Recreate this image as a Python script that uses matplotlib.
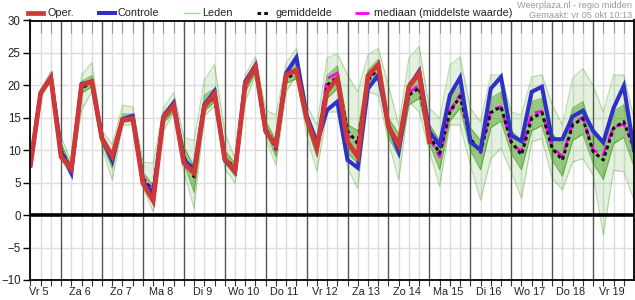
import numpy as np
import matplotlib
matplotlib.use("Agg")
import matplotlib.pyplot as plt
from matplotlib.lines import Line2D

plt.rcParams["font.family"] = ["Liberation Sans", "DejaVu Sans"]

# time steps in hours after Fri 5 00:00, every 6 h
hours = np.arange(6, 361, 6)
day_labels = ["Vr 5", "Za 6", "Zo 7", "Ma 8", "Di 9", "Wo 10", "Do 11", "Vr 12",
              "Za 13", "Zo 14", "Ma 15", "Di 16", "Wo 17", "Do 18", "Vr 19"]

# operational run (ends after 10 days)
oper = [7.7, 18.8, 21.2, 9.0, 7.1, 20.0, 20.6, 11.8, 9.1, 14.7,
        14.9, 4.9, 2.2, 15.0, 16.9, 8.0, 6.5, 16.7, 18.7, 8.7,
        6.8, 20.2, 22.9, 12.9, 10.8, 21.6, 22.4, 14.9, 10.3, 19.1,
        21.1, 11.3, 9.0, 21.5, 23.2, 13.6, 10.8, 19.8, 21.9, 11.3]

controle = [7.7, 18.8, 21.3, 9.8, 6.5, 20.2, 20.6, 11.8, 8.4, 14.8,
            15.3, 5.2, 3.2, 15.2, 17.3, 8.5, 7.1, 17.0, 19.1, 8.5,
            6.7, 20.6, 23.1, 12.9, 10.8, 21.9, 24.3, 15.4, 11.1, 16.2,
            17.5, 8.5, 7.3, 19.5, 21.6, 13.9, 9.8, 19.8, 22.2, 12.9,
            10.8, 18.5, 21.2, 11.3, 10.0, 19.5, 21.3, 12.3, 11.4, 19.0,
            19.8, 11.7, 11.7, 15.2, 16.1, 13.0, 11.2, 16.5, 19.9, 10.0]

gemiddelde = [7.7, 18.7, 21.0, 10.0, 7.0, 19.6, 20.4, 11.8, 8.6, 14.6,
              15.0, 5.5, 3.8, 15.0, 16.6, 9.0, 5.9, 16.8, 18.2, 8.8,
              7.3, 20.0, 22.7, 13.4, 10.3, 21.0, 22.0, 14.8, 10.6, 20.0,
              21.3, 12.9, 11.1, 20.8, 22.6, 13.4, 11.3, 18.5, 19.6, 12.3,
              9.5, 15.9, 18.3, 11.8, 9.8, 15.8, 16.7, 11.3, 9.3, 14.9,
              15.8, 10.3, 8.5, 13.9, 14.9, 9.8, 8.5, 13.4, 14.4, 10.3]

mediaan = [7.7, 18.8, 21.0, 10.0, 7.0, 19.8, 20.5, 11.8, 8.5, 14.7,
           15.0, 5.8, 4.0, 15.1, 16.7, 9.2, 6.2, 17.0, 18.4, 8.8,
           7.0, 20.1, 22.8, 13.3, 10.0, 21.2, 22.2, 14.7, 10.8, 21.0,
           21.9, 12.3, 11.0, 21.0, 22.8, 13.4, 11.0, 18.8, 20.1, 12.0,
           9.0, 16.0, 18.6, 11.7, 9.6, 16.2, 16.7, 11.1, 9.8, 15.7,
           16.0, 10.5, 9.0, 14.1, 15.1, 10.0, 9.3, 13.6, 14.0, 11.0]

# ensemble members: outer envelope and dense core
leden_min = [7.0, 18.3, 20.6, 8.6, 5.9, 16.2, 19.0, 10.4, 5.4, 13.8,
             14.0, 4.3, 0.5, 13.0, 15.8, 6.8, 1.0, 15.3, 16.8, 7.2,
             4.9, 17.5, 21.6, 11.8, 7.7, 19.0, 21.6, 12.3, 6.7, 15.9,
             15.9, 7.2, 4.1, 19.0, 18.5, 11.3, 5.4, 17.5, 15.9, 9.8,
             4.4, 13.9, 13.9, 7.7, 2.3, 8.7, 10.3, 6.7, 2.6, 11.3,
             11.8, 5.7, 3.9, 8.2, 8.7, 6.2, -3.1, 6.9, 6.7, 2.3]
leden_max = [8.3, 19.4, 22.2, 12.1, 8.2, 21.6, 23.5, 13.0, 10.9, 16.9,
             16.7, 8.2, 8.0, 16.5, 18.9, 12.0, 11.5, 20.8, 23.2, 12.8,
             8.7, 21.6, 24.4, 16.2, 15.4, 23.4, 25.7, 17.0, 13.9, 24.2,
             24.9, 21.6, 19.0, 24.7, 25.7, 20.0, 13.9, 24.2, 26.0, 16.5,
             14.9, 23.1, 24.4, 16.5, 14.4, 21.6, 21.6, 15.9, 15.4, 21.3,
             21.6, 17.0, 13.9, 21.1, 22.6, 20.0, 15.9, 21.6, 21.6, 14.9]
leden_lo = [7.4, 18.5, 20.8, 9.3, 6.4, 18.8, 19.8, 11.0, 7.2, 14.3,
            14.5, 4.8, 2.0, 14.2, 16.0, 8.0, 3.5, 16.0, 17.5, 8.2,
            6.0, 19.0, 22.0, 12.8, 9.0, 20.3, 21.0, 13.8, 9.0, 18.0,
            19.5, 9.5, 8.0, 19.8, 21.0, 12.0, 9.0, 17.0, 18.0, 11.0,
            7.0, 14.5, 16.5, 10.0, 7.0, 13.5, 14.5, 9.5, 7.0, 13.0,
            13.8, 8.5, 6.0, 11.5, 12.5, 8.0, 5.5, 11.0, 12.0, 7.5]
leden_hi = [8.0, 19.1, 21.6, 11.0, 7.6, 20.6, 21.5, 12.4, 9.6, 15.6,
            15.6, 6.6, 4.6, 15.8, 17.6, 10.5, 7.5, 18.5, 19.5, 10.0,
            8.0, 20.8, 23.6, 14.5, 11.5, 22.0, 23.5, 15.8, 12.0, 21.5,
            23.0, 14.0, 13.0, 22.3, 24.0, 15.0, 12.5, 20.5, 21.5, 14.0,
            11.5, 18.0, 20.0, 13.5, 11.5, 18.0, 19.0, 13.0, 11.5, 17.5,
            18.0, 12.5, 11.0, 16.5, 17.5, 12.5, 11.0, 16.0, 17.0, 12.5]


def main():
    fig = plt.figure(figsize=(6.35, 3.0), dpi=100)
    ax = fig.add_axes([30.4 / 635, 20.0 / 300, 603.6 / 635, 259.5 / 300])

    # grid: light lines every 6 h and every 5 degrees, dark lines at midnight
    for h in range(6, 360, 6):
        if h % 24 == 0:
            ax.axvline(h, color="#555555", lw=1.0, zorder=1)
        else:
            ax.axvline(h, color="#dddddd", lw=1.0, zorder=0)
    for v in range(-5, 30, 5):
        if v != 0:
            ax.axhline(v, color="#dddddd", lw=1.0, zorder=0)

    # ensemble members
    green = "#3a9a10"
    ax.fill_between(hours, leden_min, leden_max, color=green, alpha=0.13,
                    lw=0, zorder=2)
    ax.fill_between(hours, leden_lo, leden_hi, color=green, alpha=0.45,
                    lw=0, zorder=2)
    for series in (leden_min, leden_max):
        ax.plot(hours, series, color=green, lw=0.8, alpha=0.35, zorder=2)
    for series in (leden_lo, leden_hi):
        ax.plot(hours, series, color=green, lw=0.8, alpha=0.6, zorder=2)

    ax.axhline(0, color="black", lw=2.6, zorder=3)

    ax.plot(hours, mediaan, color="#ff00ff", lw=2.0, ls=(0, (4, 2)), zorder=4)
    ax.plot(hours, gemiddelde, color="#111111", lw=2.2, ls=(0, (1.2, 1.0)),
            zorder=5)
    ax.plot(hours, controle, color="#3030c8", lw=2.9, zorder=6,
            solid_joinstyle="miter")
    ax.plot(hours[:len(oper)], oper, color="#d03838", lw=3.4, zorder=7,
            solid_joinstyle="miter")

    ax.set_xlim(6, 360)
    ax.set_ylim(-10, 30)
    ax.set_yticks(range(-10, 31, 5))
    ax.set_xticks([24 * d + 10.8 for d in range(len(day_labels))])
    ax.set_xticklabels(day_labels)
    ax.set_xticks(range(6, 360, 6), minor=True)
    ax.tick_params(axis="x", which="major", length=0, pad=5, labelsize=7.8,
                   labelcolor="#222222")
    ax.tick_params(axis="x", which="minor", length=4, direction="out",
                   color="#333333", width=0.8)
    ax.tick_params(axis="y", length=5, width=1, labelsize=8.3,
                   labelcolor="#222222", pad=2)

    top = ax.secondary_xaxis("top")
    top.set_xticks(range(6, 360, 6))
    top.set_xticklabels([])
    top.tick_params(direction="in", length=9, color="#999999", width=0.8)
    top.spines["top"].set_visible(False)

    for spine in ax.spines.values():
        spine.set_color("black")
        spine.set_linewidth(1.3)
        spine.set_zorder(8)

    # legend in the top margin
    yl = 1 - 13.3 / 300
    entries = [
        (28, 43, 47, "Oper.", dict(color="#d03838", lw=3.4)),
        (99, 115, 118, "Controle", dict(color="#3030c8", lw=2.9)),
        (184, 199, 202, "Leden", dict(color="#a8d8a0", lw=1.0)),
        (257, 270, 276, "gemiddelde", dict(color="#111111", lw=2.2,
                                           ls=(0, (1.2, 1.0)))),
        (355, 369, 374, "mediaan (middelste waarde)",
         dict(color="#ff00ff", lw=2.0, ls=(0, (5, 1.5, 1, 1.5)))),
    ]
    for x0, x1, xt, label, style in entries:
        fig.add_artist(Line2D([x0 / 635, x1 / 635], [yl, yl],
                              transform=fig.transFigure, **style))
        fig.text(xt / 635, yl, label, fontsize=7.8, color="#222222",
                 ha="left", va="center")

    fig.text(632 / 635, 1 - 5.2 / 300, "Weerplaza.nl - regio midden",
             fontsize=6.6, color="#9a9a9a", ha="right", va="center")
    fig.text(632 / 635, 1 - 15.2 / 300, "Gemaakt: vr 05 okt 10:13",
             fontsize=6.6, color="#9a9a9a", ha="right", va="center")

    fig.savefig("out.png", dpi=100)
    plt.close(fig)


if __name__ == "__main__":
    main()
